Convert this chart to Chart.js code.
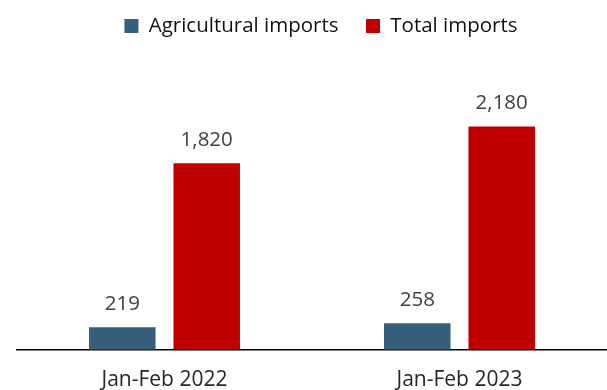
<!DOCTYPE html>
<html><head><meta charset="utf-8">
<script src="https://cdn.jsdelivr.net/npm/chart.js@4/dist/chart.umd.min.js"></script>
<style>html,body{margin:0;padding:0;background:#fff;overflow:hidden}#wrap{width:607px;height:390px}</style>
</head><body><div id="wrap"><canvas id="c" width="607" height="390"></canvas></div>
<script>
const categories = ["Jan-Feb 2022", "Jan-Feb 2023"];
const agriculturalImports = [219, 258];
const totalImports = [1820, 2180];
const seriesNames = ["Agricultural imports", "Total imports"];
const FONT = "'Open Sans', Lato, sans-serif";

const valueLabels = {
  id: 'valueLabels',
  afterDatasetsDraw(chart) {
    const ctx = chart.ctx;
    ctx.save();
    ctx.font = "20.5px " + FONT;
    ctx.fillStyle = "#404040";
    ctx.textAlign = "center";
    ctx.textBaseline = "alphabetic";
    chart.data.datasets.forEach((ds, i) => {
      chart.getDatasetMeta(i).data.forEach((el, j) => {
        ctx.fillText(ds.data[j].toLocaleString('en-US'), el.x, el.y - 17);
      });
    });
    ctx.restore();
  }
};
const shiftLegend = {
  id: 'shiftLegend',
  afterLayout(chart) { chart.legend.left += 7; chart.legend.right += 7; }
};

new Chart(document.getElementById('c'), {
  type: 'bar',
  data: {
    labels: categories,
    datasets: [
      { label: seriesNames[0], data: agriculturalImports, backgroundColor: '#365F7B' },
      { label: seriesNames[1], data: totalImports, backgroundColor: '#C00000' }
    ]
  },
  options: {
    responsive: false,
    animation: false,
    devicePixelRatio: 1,
    categoryPercentage: 0.5724,
    barPercentage: 0.788,
    layout: { padding: { left: 17, right: -4, top: -11.75, bottom: -21 } },
    plugins: {
      legend: {
        position: 'top',
        labels: { boxWidth: 14, boxHeight: 14, padding: 27.5, color: '#111', font: { family: FONT, size: 20.5 } }
      },
      tooltip: { enabled: false }
    },
    scales: {
      x: {
        grid: { display: false, drawTicks: false },
        border: { display: true, color: '#000', width: 1.5 },
        ticks: { color: '#262626', padding: 18, font: { family: FONT, size: 21 } }
      },
      y: {
        display: false,
        min: 0,
        max: 2963
      }
    }
  },
  plugins: [valueLabels, shiftLegend]
});
</script></body></html>
